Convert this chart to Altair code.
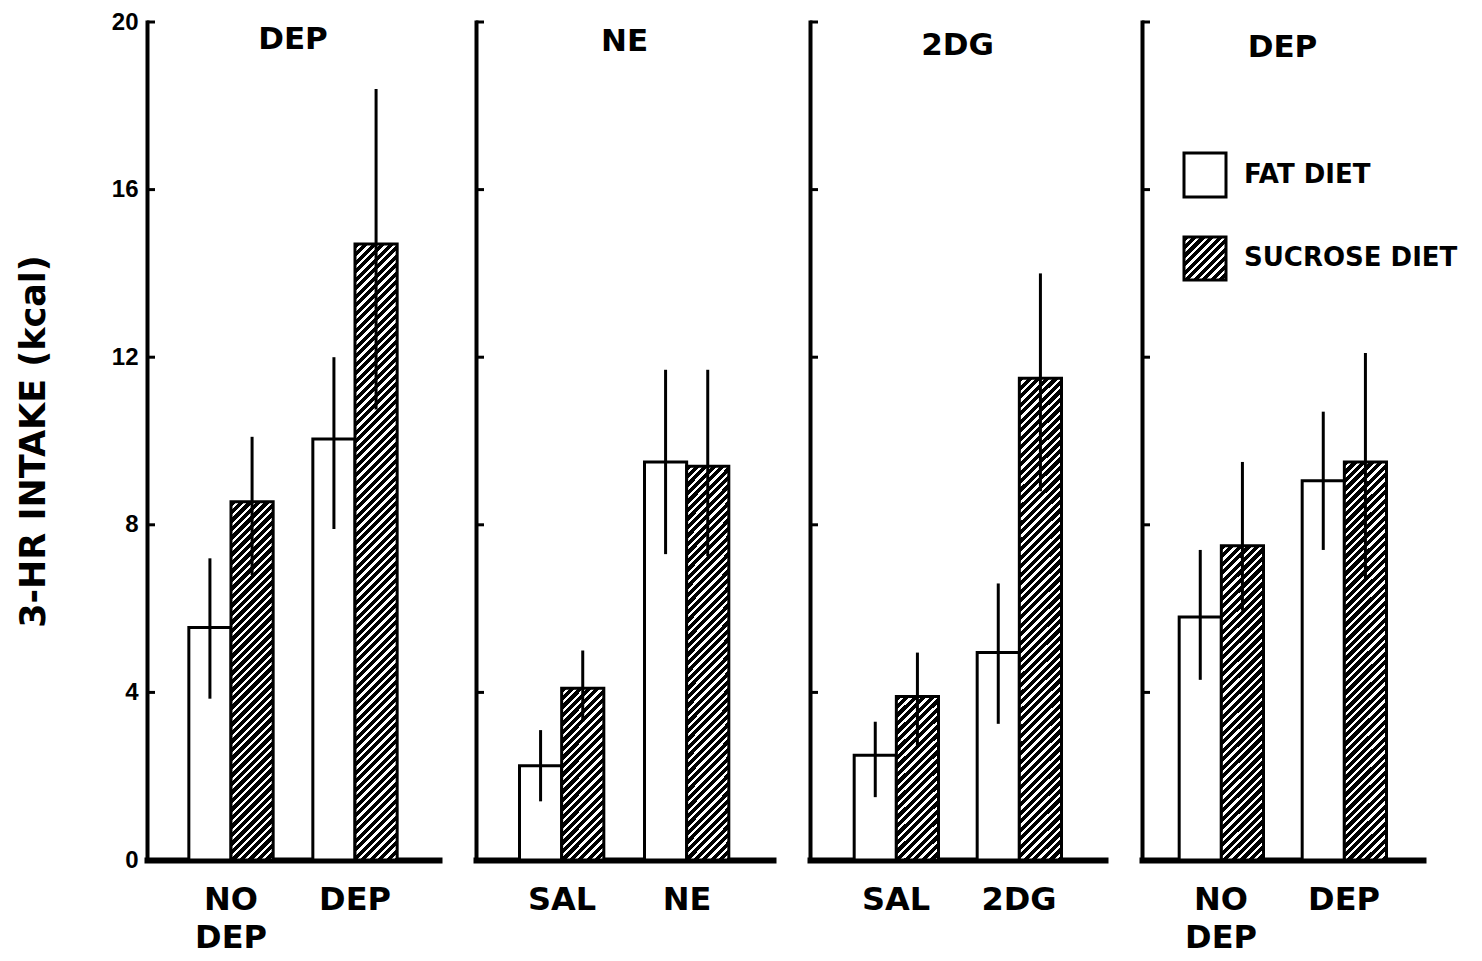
import altair as alt
import pandas as pd

# ---------------- data ----------------
panel_titles = ["DEP", "NE", "2DG", "DEP"]
groups = [["NO DEP", "DEP"], ["SAL", "NE"], ["SAL", "2DG"], ["NO DEP", "DEP"]]
diets = ["FAT", "SUCROSE"]

fat_mean = [[5.55, 10.05], [2.25, 9.5], [2.5, 4.95], [5.8, 9.05]]
fat_lo = [[3.85, 7.9], [1.4, 7.3], [1.5, 3.25], [4.3, 7.4]]
fat_hi = [[7.2, 12.0], [3.1, 11.7], [3.3, 6.6], [7.4, 10.7]]

suc_mean = [[8.55, 14.7], [4.1, 9.4], [3.9, 11.5], [7.5, 9.5]]
suc_lo = [[6.8, 10.75], [3.3, 7.25], [2.7, 8.8], [5.95, 6.7]]
suc_hi = [[10.1, 18.4], [5.0, 11.7], [4.95, 14.0], [9.5, 12.1]]

y_ticks = [0, 4, 8, 12, 16, 20]
inner_ticks = [4, 8, 12, 16, 20]
legend_labels = ["FAT DIET", "SUCROSE DIET"]

# ---------------- layout / style ----------------
H = 838
widths = [292, 297, 295, 281]
steps = [124, 125, 123, 123]
title_base = [27, 29, 33, 35]
PI = 0.32
FONT = "DejaVu Sans"
NUMFONT = "Liberation Sans"


def hatch(w, h, period=8.5, white=0.38):
    denom = w * w + h * h
    dt = period * w / denom
    stops = []
    k = 0
    while k * dt < 1:
        t0 = k * dt
        t1 = min(t0 + dt * (1 - white), 1.0)
        t2 = min(t0 + dt, 1.0)
        stops += [
            {"offset": round(t0, 5), "color": "black"},
            {"offset": round(t1, 5), "color": "black"},
            {"offset": round(t1, 5), "color": "white"},
            {"offset": round(t2, 5), "color": "white"},
        ]
        k += 1
    return alt.LinearGradient(gradient="linear", x1=0, y1=0, x2=1, y2=h / w,
                              stops=[alt.GradientStop(**s) for s in stops])


def panel(i):
    rows = []
    for j, g in enumerate(groups[i]):
        rows.append({"group": g, "diet": "FAT", "mean": fat_mean[i][j],
                     "lo": fat_lo[i][j], "hi": fat_hi[i][j]})
        rows.append({"group": g, "diet": "SUCROSE", "mean": suc_mean[i][j],
                     "lo": suc_lo[i][j], "hi": suc_hi[i][j]})
    df = pd.DataFrame(rows)

    w = widths[i]
    step = steps[i]
    po = (w / step - (2 - PI)) / 2
    bar_w = step * (1 - PI) / 2

    yscale = alt.Scale(domain=[0, 20], nice=False, zero=True)
    xscale = alt.Scale(domain=groups[i], paddingInner=PI, paddingOuter=po)
    oscale = alt.Scale(domain=diets, paddingInner=0, paddingOuter=0)

    if i == 0:
        yaxis = alt.Axis(values=y_ticks, ticks=False, grid=False,
                         labelFont=NUMFONT, labelFontSize=24, labelFontWeight="bold",
                         labelColor="black", labelPadding=9,
                         domainColor="black", domainWidth=4, domainCap="square",
                         title="3-HR INTAKE (kcal)", titleFont=FONT, titleFontSize=35,
                         titleFontWeight="bold", titleColor="black", titlePadding=60)
    else:
        yaxis = alt.Axis(values=y_ticks, ticks=False, grid=False, labels=False,
                         domainColor="black", domainWidth=4, domainCap="square",
                         title=None)

    xaxis = alt.Axis(title=None, ticks=False, labelAngle=0, labelFont=FONT,
                     labelFontSize=32, labelFontWeight="bold", labelColor="black",
                     labelBaseline="top", labelPadding=24, labelLineHeight=38,
                     domainColor="black", domainWidth=6, domainCap="square",
                     labelExpr="datum.label == 'NO DEP' ? split(datum.label, ' ') : datum.label")

    X = alt.X("group:N", scale=xscale, sort=groups[i], axis=xaxis)
    XO = alt.XOffset("diet:N", scale=oscale, sort=diets)

    base = alt.Chart(df)

    fat = base.transform_filter(alt.datum.diet == "FAT").mark_bar(
        fill="white", stroke="black", strokeWidth=3
    ).encode(x=X, xOffset=XO, y=alt.Y("mean:Q", scale=yscale, axis=yaxis))

    layers = [fat]
    for j, g in enumerate(groups[i]):
        hpx = suc_mean[i][j] * H / 20.0
        lay = base.transform_filter(
            (alt.datum.diet == "SUCROSE") & (alt.datum.group == g)
        ).mark_bar(fill=hatch(bar_w, hpx), stroke="black", strokeWidth=3).encode(
            x=X, xOffset=XO, y=alt.Y("mean:Q", scale=yscale)
        )
        layers.append(lay)

    err = base.mark_rule(color="black", strokeWidth=3).encode(
        x=X, xOffset=XO, y=alt.Y("lo:Q", scale=yscale), y2="hi:Q"
    )
    layers.append(err)

    tick_df = pd.DataFrame({"t": inner_ticks})
    ticks = alt.Chart(tick_df).mark_rule(color="black", strokeWidth=3).encode(
        y=alt.Y("t:Q", scale=yscale), x=alt.value(0), x2=alt.value(8)
    )
    layers.append(ticks)

    ttl = alt.Chart(pd.DataFrame({"t": [panel_titles[i]]})).mark_text(
        align="center", baseline="alphabetic", font=FONT, fontSize=31,
        fontWeight="bold", color="black"
    ).encode(x=alt.value(w / 2), y=alt.value(title_base[i]), text="t:N")
    layers.append(ttl)

    if i == 3:
        lg0 = alt.Chart(pd.DataFrame({"label": [legend_labels[0]]}))
        lg1 = alt.Chart(pd.DataFrame({"label": [legend_labels[1]]}))
        layers.append(lg0.mark_rect(fill="white", stroke="black", strokeWidth=3).encode(
            x=alt.value(42), x2=alt.value(84), y=alt.value(131), y2=alt.value(175)))
        layers.append(lg1.mark_rect(fill=hatch(42, 43), stroke="black", strokeWidth=3).encode(
            x=alt.value(42), x2=alt.value(84), y=alt.value(215), y2=alt.value(258)))
        layers.append(lg0.mark_text(align="left", baseline="middle", font=FONT,
                                    fontSize=26, fontWeight="bold", color="black").encode(
            x=alt.value(102), y=alt.value(153), text="label:N"))
        layers.append(lg1.mark_text(align="left", baseline="middle", font=FONT,
                                    fontSize=26, fontWeight="bold", color="black").encode(
            x=alt.value(102), y=alt.value(236), text="label:N"))

    return alt.layer(*layers).properties(width=w, height=H)


chart = alt.hconcat(*[panel(i) for i in range(4)], spacing=35).properties(
    padding={"left": 8, "top": 2, "right": 2, "bottom": 2},
    background="white",
).configure_view(strokeWidth=0, stroke=None)

chart.save("out.html", embed_options={"renderer": "svg", "actions": False})
